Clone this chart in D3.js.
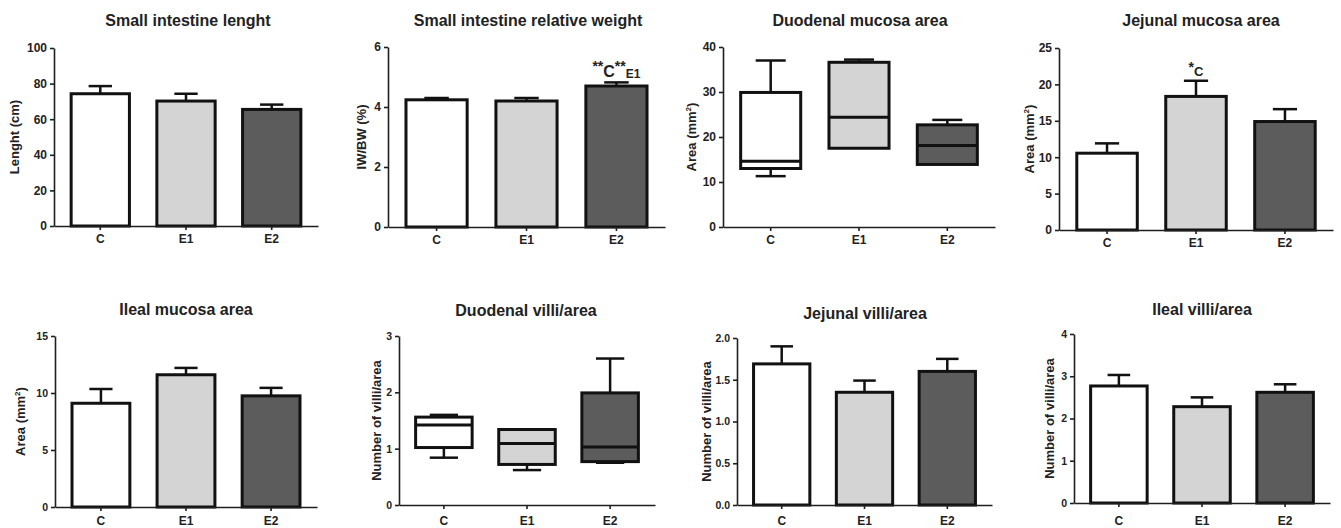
<!DOCTYPE html>
<html>
<head>
<meta charset="utf-8">
<script src="https://cdn.jsdelivr.net/npm/d3@7"></script>
<style>
  body { margin: 0; background: #fff; }
  text { font-family: "Liberation Sans", Arial, sans-serif; font-weight: bold; fill: #222; }
  .axis path, .axis line { stroke: #1e1e1e; stroke-width: 1.6; }
</style>
</head>
<body>
<svg id="fig" width="1341" height="528"></svg>
<script>
// groups
var groups = ["C", "E1", "E2"];

// bar charts: mean and error (SEM)
var lengthMean = [74.3, 70.2, 65.5];
var lengthSem = [4.3, 4.1, 2.7];
var weightMean = [4.24, 4.2, 4.7];
var weightSem = [0.06, 0.1, 0.12];
var jejAreaMean = [10.55, 18.35, 14.9];
var jejAreaSem = [1.35, 2.15, 1.7];
var ilealAreaMean = [9.1, 11.6, 9.75];
var ilealAreaSem = [1.25, 0.6, 0.7];
var jejVilliMean = [1.69, 1.35, 1.6];
var jejVilliSem = [0.21, 0.14, 0.15];
var ilealVilliMean = [2.77, 2.28, 2.62];
var ilealVilliSem = [0.26, 0.22, 0.19];

// box plots: min, q1, median, q3, max
var duoAreaBox = [
  [11.3, 13, 14.6, 29.9, 37],
  [17.5, 17.5, 24.4, 36.6, 37.2],
  [13.9, 13.9, 18.1, 22.7, 23.8]
];
var duoVilliBox = [
  [0.84, 1.02, 1.42, 1.56, 1.6],
  [0.62, 0.72, 1.09, 1.34, 1.34],
  [0.75, 0.77, 1.03, 1.99, 2.6]
];

var fills = ["#ffffff", "#d4d4d4", "#5c5c5c"];

var svg = d3.select("#fig");

// panel layout
var panels = [
  {title: "Small intestine lenght", ylab: "Lenght (cm)", type: "bar", mean: lengthMean, sem: lengthSem,
   domain: [0, 100], ticks: [0, 20, 40, 60, 80, 100], fmt: d3.format("d"),
   x0: 54, x1: 318, top: 48, bottom: 226, tx: 188, ty: 26, lx: 19, fs: 12, pad: 4},
  {title: "Small intestine relative weight", ylab: "IW/BW (%)", type: "bar", mean: weightMean, sem: weightSem,
   domain: [0, 6], ticks: [0, 2, 4, 6], fmt: d3.format("d"),
   x0: 388, x1: 665, top: 47, bottom: 227, tx: 528, ty: 26, lx: 366, fs: 12, pad: 4,
   note: {group: 2, parts: [["**", -6, 14], ["C", 0, 16], ["**", -6, 14], ["E1", 1, 12]]}},
  {title: "Duodenal mucosa area", ylab: "Area (mm", sup: "2", type: "box", box: duoAreaBox,
   domain: [0, 40], ticks: [0, 10, 20, 30, 40], fmt: d3.format("d"),
   x0: 723, x1: 995, top: 47, bottom: 227, tx: 860, ty: 26, lx: 696, fs: 12, pad: 4},
  {title: "Jejunal mucosa area", ylab: "Area (mm", sup: "2", type: "bar", mean: jejAreaMean, sem: jejAreaSem,
   domain: [0, 25], ticks: [0, 5, 10, 15, 20, 25], fmt: d3.format("d"),
   x0: 1059, x1: 1333, top: 48, bottom: 230, tx: 1201, ty: 26, lx: 1034, fs: 12, pad: 4,
   note: {group: 1, parts: [["*", -4, 14], ["C", 0, 13]]}},
  {title: "Ileal mucosa area", ylab: "Area (mm", sup: "2", type: "bar", mean: ilealAreaMean, sem: ilealAreaSem,
   domain: [0, 15], ticks: [0, 5, 10, 15], fmt: d3.format("d"),
   x0: 55, x1: 317, top: 336, bottom: 507, tx: 186, ty: 315, lx: 25, fs: 10.5, pad: 5},
  {title: "Duodenal villi/area", ylab: "Number of villi/area", type: "box", box: duoVilliBox,
   domain: [0, 3], ticks: [0, 1, 2, 3], fmt: d3.format("d"),
   x0: 399, x1: 655, top: 336, bottom: 505, tx: 526, ty: 316, lx: 381, fs: 10.5, pad: 7},
  {title: "Jejunal villi/area", ylab: "Number of villi/area", type: "bar", mean: jejVilliMean, sem: jejVilliSem,
   domain: [0, 2], ticks: [0, 0.5, 1, 1.5, 2], fmt: d3.format(".1f"),
   x0: 737, x1: 992, top: 338, bottom: 505, tx: 865, ty: 319, lx: 711, fs: 10.5, pad: 7},
  {title: "Ileal villi/area", ylab: "Number of villi/area", type: "bar", mean: ilealVilliMean, sem: ilealVilliSem,
   domain: [0, 4], ticks: [0, 1, 2, 3, 4], fmt: d3.format("d"),
   x0: 1074, x1: 1330, top: 334, bottom: 503, tx: 1202, ty: 315, lx: 1054, fs: 10.5, pad: 9}
];

panels.forEach(function(p) {
  var x = d3.scaleBand().domain(groups).range([p.x0, p.x1]).paddingInner(0.32).paddingOuter(0.2);
  var y = d3.scaleLinear().domain(p.domain).range([p.bottom, p.top]);
  var g = svg.append("g");
  var bw = x.bandwidth();

  // title
  g.append("text").attr("x", p.tx).attr("y", p.ty).attr("text-anchor", "middle")
    .style("font-size", "16px").text(p.title);

  // y label
  var yl = g.append("text")
    .attr("transform", "translate(" + p.lx + "," + ((p.top + p.bottom) / 2) + ") rotate(-90)")
    .attr("text-anchor", "middle").style("font-size", "13px");
  yl.append("tspan").text(p.ylab);
  if (p.sup) {
    yl.append("tspan").attr("dy", -5).style("font-size", "8px").text(p.sup);
    yl.append("tspan").attr("dy", 5).text(")");
  }

  if (p.type == "bar") {
    groups.forEach(function(k, i) {
      var cx = x(k) + bw / 2;
      // error bar
      g.append("line").attr("x1", cx).attr("x2", cx)
        .attr("y1", y(p.mean[i])).attr("y2", y(p.mean[i] + p.sem[i]))
        .attr("stroke", "#111").attr("stroke-width", 2.5);
      g.append("line").attr("x1", cx - bw * 0.2).attr("x2", cx + bw * 0.2)
        .attr("y1", y(p.mean[i] + p.sem[i])).attr("y2", y(p.mean[i] + p.sem[i]))
        .attr("stroke", "#111").attr("stroke-width", 2.5);
      g.append("rect").attr("x", x(k)).attr("width", bw)
        .attr("y", y(p.mean[i])).attr("height", y(0) - y(p.mean[i]))
        .attr("fill", fills[i]).attr("stroke", "#111").attr("stroke-width", 3);
    });
  } else {
    groups.forEach(function(k, i) {
      var b = p.box[i];
      var cx = x(k) + bw / 2;
      [[b[0], b[1]], [b[3], b[4]]].forEach(function(w) {
        if (w[0] == w[1]) return;
        g.append("line").attr("x1", cx).attr("x2", cx).attr("y1", y(w[0])).attr("y2", y(w[1]))
          .attr("stroke", "#111").attr("stroke-width", 2.5);
      });
      [b[0], b[4]].forEach(function(v, j) {
        if (v == b[j == 0 ? 1 : 3]) return;
        g.append("line").attr("x1", cx - bw * 0.25).attr("x2", cx + bw * 0.25).attr("y1", y(v)).attr("y2", y(v))
          .attr("stroke", "#111").attr("stroke-width", 2.5);
      });
      g.append("rect").attr("x", x(k)).attr("width", bw)
        .attr("y", y(b[3])).attr("height", y(b[1]) - y(b[3]))
        .attr("fill", fills[i]).attr("stroke", "#111").attr("stroke-width", 3);
      g.append("line").attr("x1", x(k)).attr("x2", x(k) + bw).attr("y1", y(b[2])).attr("y2", y(b[2]))
        .attr("stroke", "#111").attr("stroke-width", 3);
    });
  }

  // significance note: [text, baseline shift, size]
  if (p.note) {
    var idx = p.note.group;
    var t = g.append("text").attr("x", x(groups[idx]) + bw / 2)
      .attr("y", y(p.mean[idx] + p.sem[idx]) - 5)
      .attr("text-anchor", "middle");
    var base = 0;
    p.note.parts.forEach(function(pt) {
      t.append("tspan").attr("dy", pt[1] - base).style("font-size", pt[2] + "px").text(pt[0]);
      base = pt[1];
    });
  }

  // axes
  g.append("g").attr("class", "axis").attr("transform", "translate(" + p.x0 + ",0)")
    .call(d3.axisLeft(y).tickValues(p.ticks).tickFormat(p.fmt).tickSize(4).tickSizeOuter(0))
    .selectAll("text").style("font-size", p.fs + "px");
  g.append("g").attr("class", "axis").attr("transform", "translate(0," + y(0) + ")")
    .call(d3.axisBottom(x).tickSize(4).tickSizeOuter(0).tickPadding(p.pad))
    .selectAll("text").style("font-size", "12px");
  g.selectAll(".axis text").attr("fill", "#222")
    .style("font-family", "Liberation Sans, Arial, sans-serif");
});
</script>
</body>
</html>
